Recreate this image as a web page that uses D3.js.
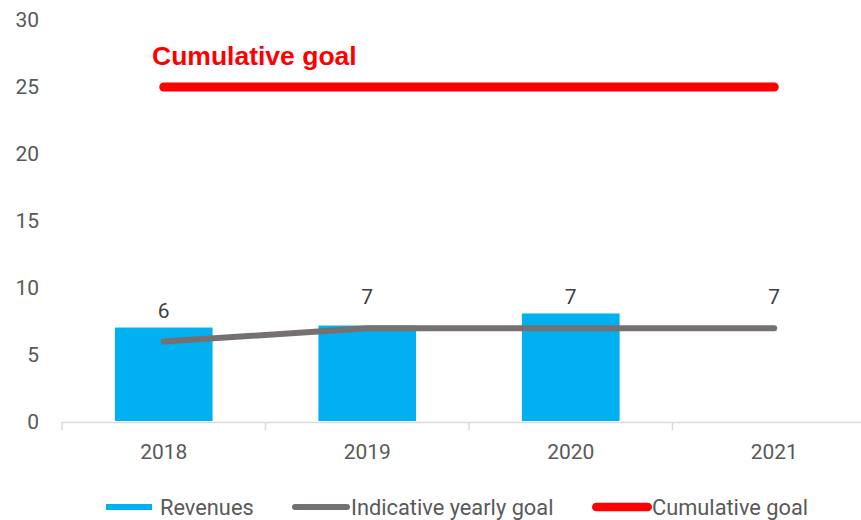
<!DOCTYPE html>
<html>
<head>
<meta charset="utf-8">
<script src="https://cdn.jsdelivr.net/npm/d3@7"></script>
<style>
  html, body { margin: 0; padding: 0; background: #fff; }
  svg { display: block; }
</style>
</head>
<body>
<svg id="chart" width="861" height="520"></svg>
<script>
const years = ["2018", "2019", "2020", "2021"];
const revenues = [7.05, 7.2, 8.1, null];
const yearlyGoal = [6, 7, 7, 7];
const cumulativeGoal = [25, 25, 25, 25];
const yTicks = [0, 5, 10, 15, 20, 25, 30];
const chartTitle = "Cumulative goal";
const legendLabels = ["Revenues", "Indicative yearly goal", "Cumulative goal"];

const colors = { bar: "#00B0F0", goal: "#767171", cum: "#FF0000", text: "#595959", label: "#404040", axis: "#D9D9D9" };
const font = "Roboto, 'Open Sans', sans-serif";

const svg = d3.select("#chart");

const x = d3.scaleBand().domain(years).range([62, 876]).padding(0);
const y = d3.scaleLinear().domain([0, 30]).range([422, 20]);
const barW = x.bandwidth() * 0.48;
const cx = d => x(d) + x.bandwidth() / 2;

// Y axis labels (no line)
const yAxis = d3.axisLeft(y).tickValues(yTicks).tickSize(0).tickPadding(0);
const gy = svg.append("g").attr("transform", "translate(39,0)").call(yAxis);
gy.select(".domain").remove();
gy.selectAll("text").attr("fill", colors.text).style("font-family", font).style("font-size", "21px");

// Bars
svg.append("g").selectAll("rect")
  .data(years.map((yr, i) => ({ yr, v: revenues[i] })).filter(d => d.v != null))
  .join("rect")
  .attr("x", d => cx(d.yr) - barW / 2)
  .attr("width", barW)
  .attr("y", d => y(d.v))
  .attr("height", d => y(0) - 1 - y(d.v))
  .attr("fill", colors.bar);

// X axis
const xAxis = d3.axisBottom(x).tickSize(0).tickPadding(22);
const gx = svg.append("g").attr("transform", `translate(0,${y(0)})`).call(xAxis);
gx.select(".domain").attr("stroke", colors.axis).attr("stroke-width", 1.5);
gx.selectAll("text").attr("fill", colors.text).style("font-family", font).style("font-size", "21px");
// boundary ticks
svg.append("g").selectAll("line")
  .data(years.map(d => x(d)))
  .join("line")
  .attr("x1", d => d).attr("x2", d => d)
  .attr("y1", y(0)).attr("y2", y(0) + 8)
  .attr("stroke", colors.axis).attr("stroke-width", 1.5);

// Lines
const line = d3.line().x((d, i) => cx(years[i])).y(d => y(d));
svg.append("path").datum(yearlyGoal).attr("d", line)
  .attr("fill", "none").attr("stroke", colors.goal).attr("stroke-width", 6)
  .attr("stroke-linecap", "round").attr("stroke-linejoin", "round");
svg.append("path").datum(cumulativeGoal).attr("d", line)
  .attr("fill", "none").attr("stroke", colors.cum).attr("stroke-width", 9)
  .attr("stroke-linecap", "round").attr("stroke-linejoin", "round");

// Data labels on yearly goal
svg.append("g").selectAll("text")
  .data(yearlyGoal)
  .join("text")
  .attr("x", (d, i) => cx(years[i]))
  .attr("y", d => y(d) - 24)
  .attr("text-anchor", "middle")
  .attr("fill", colors.label)
  .style("font-family", font).style("font-size", "21px")
  .text(d => d);

// Title
svg.append("text")
  .attr("x", 152).attr("y", 65)
  .attr("fill", colors.cum)
  .style("font-family", "'Liberation Sans', Arial, sans-serif")
  .style("font-weight", "bold").style("font-size", "26.5px")
  .text(chartTitle);

// Legend
const legend = svg.append("g");
const legendItems = [
  { label: legendLabels[0], type: "rect", color: colors.bar, x0: 106, w: 46, tx: 160 },
  { label: legendLabels[1], type: "line", color: colors.goal, x0: 292, w: 58, sw: 6, tx: 351 },
  { label: legendLabels[2], type: "line", color: colors.cum, x0: 592, w: 60, sw: 8.5, tx: 652 }
];
const ly = 507;
legendItems.forEach(it => {
  if (it.type === "rect") {
    legend.append("rect").attr("x", it.x0).attr("y", ly - 3).attr("width", it.w).attr("height", 6).attr("fill", it.color);
  } else {
    legend.append("line")
      .attr("x1", it.x0 + it.sw / 2).attr("x2", it.x0 + it.w - it.sw / 2)
      .attr("y1", ly).attr("y2", ly)
      .attr("stroke", it.color).attr("stroke-width", it.sw).attr("stroke-linecap", "round");
  }
  legend.append("text")
    .attr("x", it.tx).attr("y", ly + 7.5)
    .attr("fill", colors.text)
    .style("font-family", font).style("font-size", "21.8px")
    .text(it.label);
});
</script>
</body>
</html>
